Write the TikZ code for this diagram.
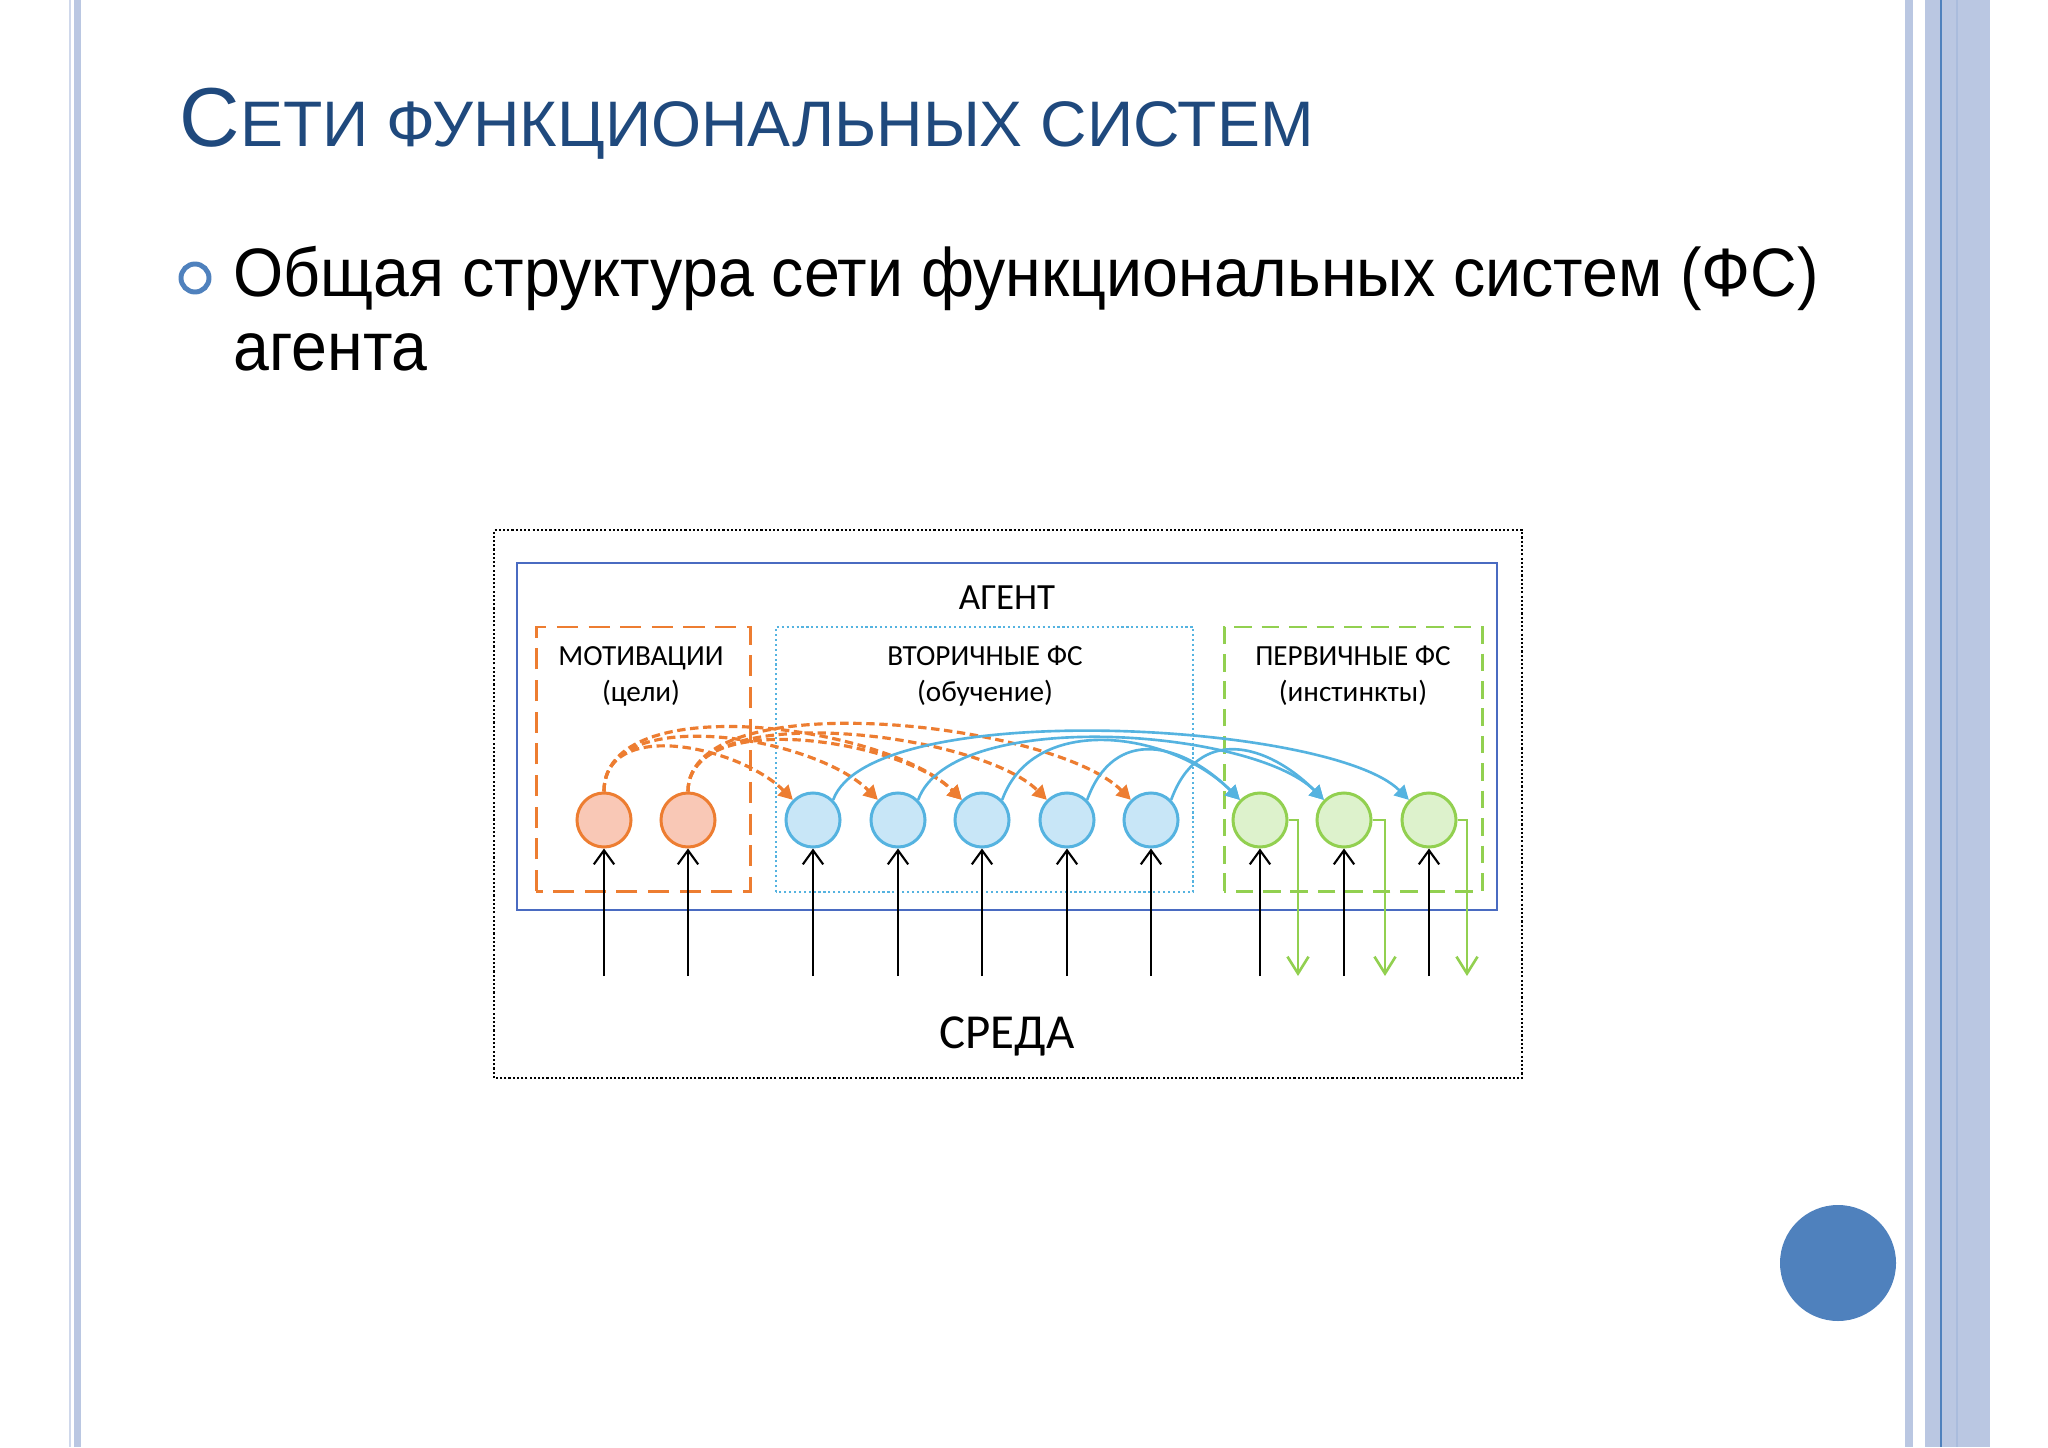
\documentclass[tikz,border=0pt]{standalone}
\usepackage{fontspec}
\setmainfont{Liberation Sans}
\newfontfamily\calibri{Carlito}
\usetikzlibrary{arrows.meta}
\definecolor{titleblue}{HTML}{1F497D}
\definecolor{accent}{HTML}{4F81BD}
\definecolor{stripe}{HTML}{BAC7E2}
\definecolor{motline}{HTML}{ED7D31}
\definecolor{motfill}{HTML}{F9C8B6}
\definecolor{secline}{HTML}{55B3E0}
\definecolor{secfill}{HTML}{C8E6F7}
\definecolor{primline}{HTML}{92D050}
\definecolor{primfill}{HTML}{DDF2CC}
\definecolor{agentline}{HTML}{4A6BC1}
\tikzset{
  fs/.style={circle, line width=0.85pt, minimum size=0.54cm, inner sep=0pt},
  motfs/.style={fs, draw=motline, fill=motfill},
  secfs/.style={fs, draw=secline, fill=secfill},
  primfs/.style={fs, draw=primline, fill=primfill},
  lbl/.style={font=\calibri\fontsize{8.3}{10.2}\selectfont, align=center},
  motarc/.style={draw=motline, line width=0.9pt, dash pattern=on 2.4pt off 1.3pt, -{Triangle[length=4pt,width=4.2pt]}},
  secarc/.style={draw=secline, line width=0.75pt, -{Triangle[length=4pt,width=4.2pt]}},
  input/.style={line width=0.6pt, ->},
  output/.style={draw=primline, line width=0.75pt, -{Straight Barb[length=4.8pt,width=6pt]}}
}
\begin{document}
\begin{tikzpicture}[x=0.01cm, y=0.01cm, >={Straight Barb[length=4pt,width=5.8pt]}]
      % page and side stripes
      \useasboundingbox (0,0) rectangle (2048,1447);
      \fill[white] (0,0) rectangle (2048,1447);
      \fill[stripe!70] (69,0) rectangle (71,1447);
      \fill[stripe] (74,0) rectangle (81,1447);
      \fill[stripe] (1905,0) rectangle (1913,1447);
      \fill[stripe] (1925,0) rectangle (1990,1447);
      \fill[stripe!85!accent] (1956,0) rectangle (1958,1447);
      \fill[accent] (1940,0) rectangle (1942,1447);
      \fill[accent] (1838,184) circle (58);
      % title and bullet
      \node[anchor=base west, inner sep=0, text=titleblue] (title) at (179,1300)
        {\fontsize{23.8}{29}\selectfont С\fontsize{18.3}{23}\selectfont ЕТИ ФУНКЦИОНАЛЬНЫХ СИСТЕМ};
      \node[circle, draw=accent, line width=1.4pt, minimum size=0.28cm, inner sep=0] (bullet) at (195,1169) {};
      \node[anchor=base west, inner sep=0, font=\fontsize{19.5}{24}\selectfont] (line1) at (233,1150)
        {\scalebox{0.94}[1]{Общая структура сети функциональных систем (ФС)}};
      \node[anchor=base west, inner sep=0, font=\fontsize{19.5}{24}\selectfont] (line2) at (233,1077)
        {\scalebox{0.94}[1]{агента}};
      % environment and agent
      \draw[black, line width=0.6pt, dash pattern=on 0.6pt off 0.6pt] (494,369) rectangle (1522,917);
      \draw[agentline, line width=0.65pt] (517,537) rectangle (1497,884);
      \node[font=\calibri\fontsize{10.5}{12}\selectfont] (agent) at (1007,849) {АГЕНТ};
      \node[font=\calibri\fontsize{13.9}{16}\selectfont] (env) at (1007,411) {СРЕДА};
      % groups of systems
      \draw[motline, line width=0.85pt, dash pattern=on 6pt off 3pt] (536,556) rectangle (750,820);
      \draw[secline, line width=0.6pt, dash pattern=on 0.6pt off 0.8pt] (776,555) rectangle (1193,820);
      \draw[primline, line width=0.85pt, dash pattern=on 5pt off 2.8pt] (1224,556) rectangle (1482,820);
      \node[lbl] (motlbl) at (641,771) {МОТИВАЦИИ\\(цели)};
      \node[lbl] (seclbl) at (985,771) {ВТОРИЧНЫЕ ФС\\(обучение)};
      \node[lbl] (primlbl) at (1353,771) {ПЕРВИЧНЫЕ ФС\\(инстинкты)};
      % functional systems
      \node[motfs] (m1) at (604,627) {};
      \node[motfs] (m2) at (688,627) {};
      \node[secfs] (s1) at (813,627) {};
      \node[secfs] (s2) at (898,627) {};
      \node[secfs] (s3) at (982,627) {};
      \node[secfs] (s4) at (1067,627) {};
      \node[secfs] (s5) at (1151,627) {};
      \node[primfs] (p1) at (1260,627) {};
      \node[primfs] (p2) at (1344,627) {};
      \node[primfs] (p3) at (1429,627) {};
      % inputs from the environment
      \coordinate (ground) at (0,471);
      \draw[input] (m1 |- ground) -- (m1);
      \draw[input] (m2 |- ground) -- (m2);
      \draw[input] (s1 |- ground) -- (s1);
      \draw[input] (s2 |- ground) -- (s2);
      \draw[input] (s3 |- ground) -- (s3);
      \draw[input] (s4 |- ground) -- (s4);
      \draw[input] (s5 |- ground) -- (s5);
      \draw[input] (p1 |- ground) -- (p1);
      \draw[input] (p2 |- ground) -- (p2);
      \draw[input] (p3 |- ground) -- (p3);
      % actions to the environment
      \coordinate (p1out) at (1298,471);
      \coordinate (p2out) at (1385,471);
      \coordinate (p3out) at (1467,471);
      \draw[output] (p1.east) -| (p1out);
      \draw[output] (p2.east) -| (p2out);
      \draw[output] (p3.east) -| (p3out);
      % motivations to secondary systems
      \draw[motarc] (m1.north) .. controls +(90:75) and +(135:75) .. (s1.135);
      \draw[motarc] (m1.north) .. controls +(90:90) and +(135:90) .. (s2.135);
      \draw[motarc] (m1.north) .. controls +(90:105) and +(135:105) .. (s3.135);
      \draw[motarc] (m2.north) .. controls +(90:85) and +(135:85) .. (s3.135);
      \draw[motarc] (m2.north) .. controls +(90:95) and +(135:95) .. (s4.135);
      \draw[motarc] (m2.north) .. controls +(90:110) and +(135:110) .. (s5.135);
      % secondary to primary systems
      \draw[secarc] (s1.45) .. controls +(70:110) and +(135:110) .. (p3.135);
      \draw[secarc] (s2.45) .. controls +(70:100) and +(135:100) .. (p2.135);
      \draw[secarc] (s3.45) .. controls +(70:95) and +(135:95) .. (p1.135);
      \draw[secarc] (s4.45) .. controls +(70:80) and +(135:80) .. (p1.135);
      \draw[secarc] (s5.45) .. controls +(70:80) and +(135:80) .. (p2.135);
\end{tikzpicture}
\end{document}
